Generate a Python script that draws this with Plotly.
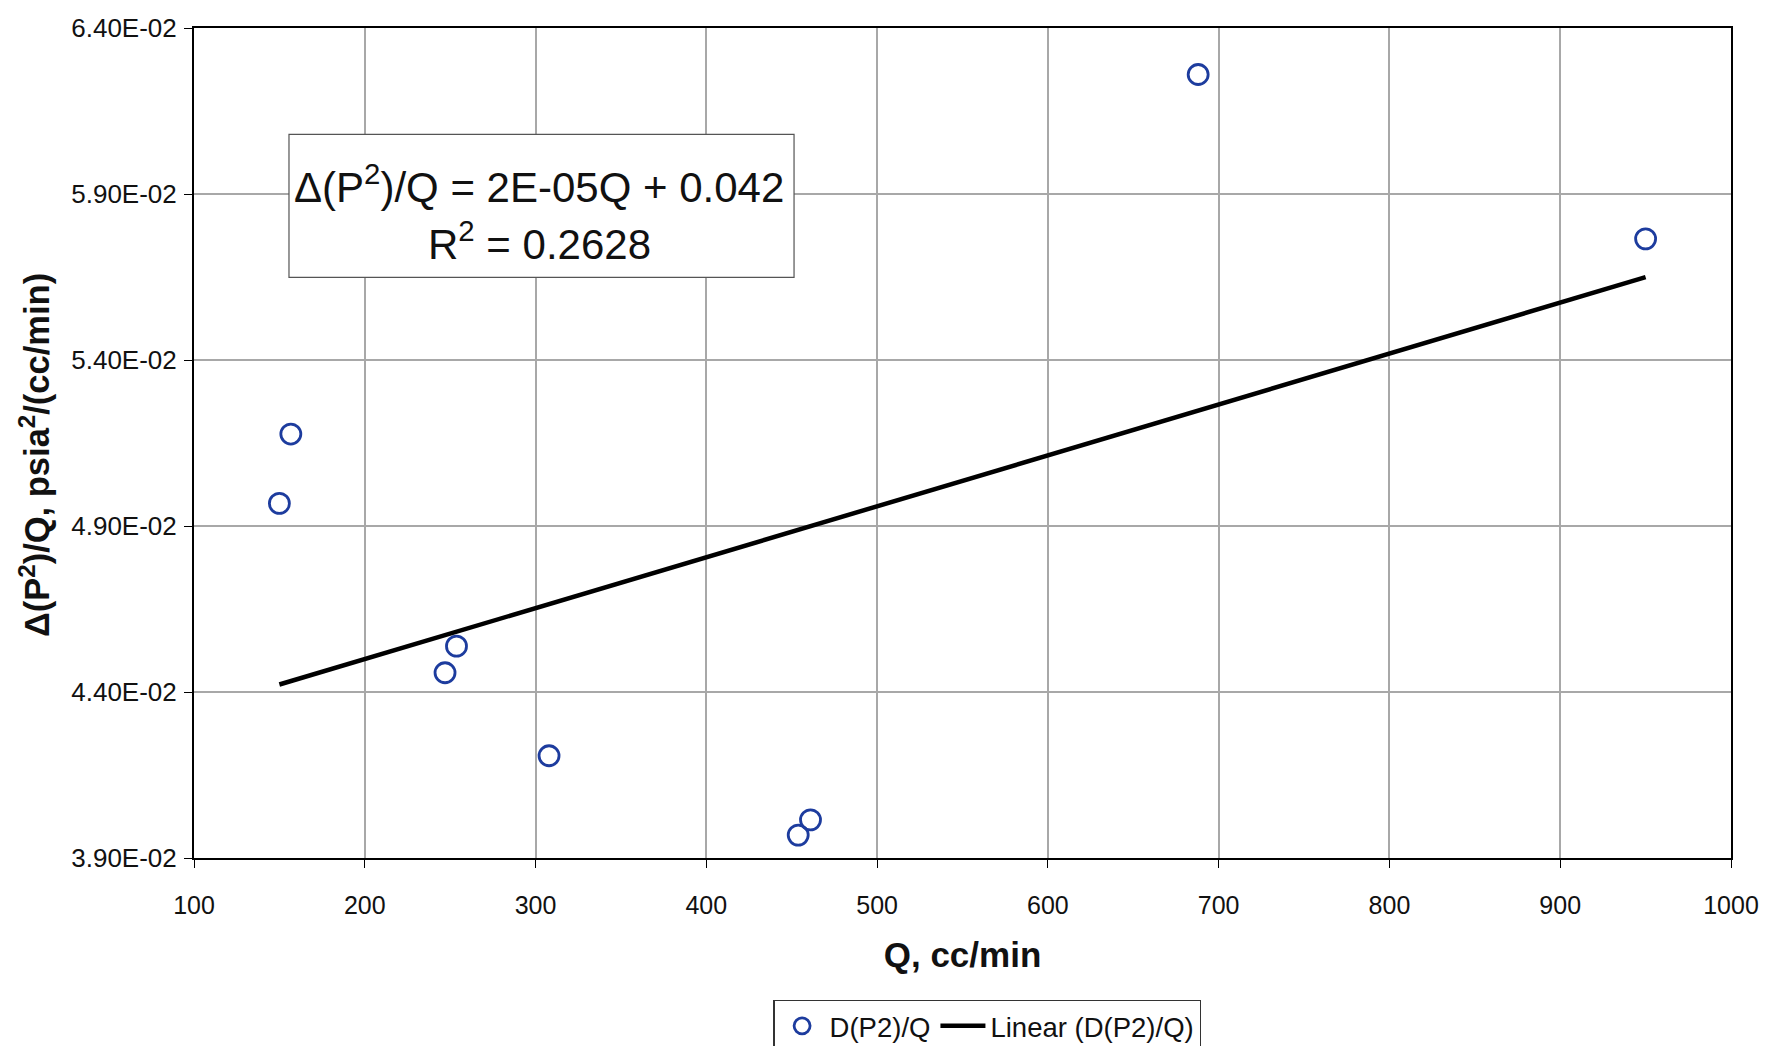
import numpy as np
import plotly.graph_objects as go

# Flow rate and normalised squared-pressure drop
q_values = [150.0, 156.7, 247.0, 253.7, 307.9, 453.8, 461.0, 688.0, 950.0]
dp2_over_q = [0.04968, 0.05177, 0.04458, 0.04538, 0.04208, 0.03969, 0.04015, 0.06260, 0.05765]

y_tick_values = [0.039, 0.044, 0.049, 0.054, 0.059, 0.064]
y_tick_labels = ["3.90E-02", "4.40E-02", "4.90E-02", "5.40E-02", "5.90E-02", "6.40E-02"]
x_tick_values = [100, 200, 300, 400, 500, 600, 700, 800, 900, 1000]

# Least-squares linear trend over the measured range
slope, intercept = np.polyfit(q_values, dp2_over_q, 1)
fit_x = np.array([min(q_values), max(q_values)])
fit_y = slope * fit_x + intercept

font_family = "Liberation Sans, Arial, sans-serif"

fig = go.Figure()
fig.add_trace(go.Scatter(
    x=q_values, y=dp2_over_q, mode="markers", name="D(P2)/Q",
    marker=dict(symbol="circle-open", size=20, color="#1d3c9e",
                line=dict(width=2.8, color="#1d3c9e")),
))
fig.add_trace(go.Scatter(
    x=fit_x, y=fit_y, mode="lines", name="Linear (D(P2)/Q)",
    line=dict(color="black", width=4.5),
))

# Equation box
fig.add_shape(type="rect", xref="paper", yref="paper",
              x0=0.0618, x1=0.3904, y0=0.6996, y1=0.8719,
              line=dict(color="#555555", width=1.2), fillcolor="white", layer="above")
fig.add_annotation(xref="paper", yref="paper", x=0.2245, y=0.8125, xanchor="center", yanchor="middle",
                   text="Δ(P<sup>2</sup>)/Q = 2E-05Q + 0.042", showarrow=False,
                   font=dict(family=font_family, size=42, color="#111111"))
fig.add_annotation(xref="paper", yref="paper", x=0.2245, y=0.743, xanchor="center", yanchor="middle",
                   text="R<sup>2</sup> = 0.2628", showarrow=False,
                   font=dict(family=font_family, size=42, color="#111111"))

# Vertical axis title
fig.add_annotation(xref="paper", yref="paper", x=-0.1041, y=0.4855, xanchor="center", yanchor="middle",
                   text="<b>Δ(P<sup>2</sup>)/Q, psia<sup>2</sup>/(cc/min)</b>", textangle=-90,
                   showarrow=False, font=dict(family=font_family, size=34.5, color="#111111"))

fig.update_layout(
    width=1786, height=1046,
    margin=dict(l=194, r=55, t=28, b=188, autoexpand=False),
    paper_bgcolor="white", plot_bgcolor="white",
    font=dict(family=font_family, color="#111111"),
    showlegend=True,
    legend=dict(orientation="h", x=0.516, xanchor="center", y=-0.2024, yanchor="middle",
                font=dict(size=27.5, family=font_family), bordercolor="#333333", borderwidth=1.5,
                bgcolor="white", itemwidth=45, tracegroupgap=0),
    xaxis=dict(range=[100, 1000], tickvals=x_tick_values, ticks="outside", ticklen=8,
               tickcolor="black", ticklabelstandoff=16,
               tickfont=dict(size=25), showgrid=True, gridcolor="#a8a8a8", gridwidth=1.6,
               showline=True, linecolor="black", linewidth=2, mirror=True, zeroline=False,
               title=dict(text="<b>Q, cc/min</b>", font=dict(size=35), standoff=24)),
    yaxis=dict(range=[0.039, 0.064], tickvals=y_tick_values, ticktext=y_tick_labels,
               ticks="outside", ticklen=8, tickcolor="black", ticklabelstandoff=2,
               tickfont=dict(size=26), showgrid=True, gridcolor="#a8a8a8", gridwidth=1.6,
               showline=True, linecolor="black", linewidth=2, mirror=True, zeroline=False),
)

fig.write_html("out.html")
